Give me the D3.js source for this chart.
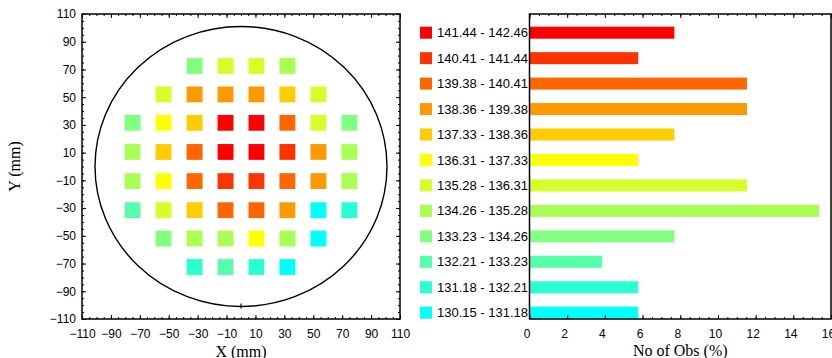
<!DOCTYPE html>
<html>
<head>
<meta charset="utf-8">
<script src="https://cdn.jsdelivr.net/npm/d3@7"></script>
<style>
  body { margin: 0; background: #fff; }
  text { font-family: "Liberation Sans", Arial, sans-serif; fill: #000; }
  .title { font-family: "Liberation Serif", "Times New Roman", serif; font-size: 16px; }
</style>
</head>
<body>
<div id="chart"></div>
<script>
// value classes, lowest first
var bins = ["130.15 - 131.18", "131.18 - 132.21", "132.21 - 133.23", "133.23 - 134.26",
            "134.26 - 135.28", "135.28 - 136.31", "136.31 - 137.33", "137.33 - 138.36",
            "138.36 - 139.38", "139.38 - 140.41", "140.41 - 141.44", "141.44 - 142.46"];
var binColors = ["#00ffff", "#2affd4", "#55ffaa", "#80ff80", "#aaff55", "#d4ff2a",
                 "#ffff00", "#ffcc00", "#ff9900", "#ff6600", "#ff3300", "#ff0000"];
var obsPct = [5.77, 5.77, 3.85, 7.69, 15.38, 11.54, 5.77, 7.69, 11.54, 11.54, 5.77, 7.69];

// measurement sites (mm) and their class index
var siteX = [-32.1, -10.7, 10.7, 32.1,
             -53.6, -32.1, -10.7, 10.7, 32.1, 53.6,
             -75, -53.6, -32.1, -10.7, 10.7, 32.1, 53.6, 75,
             -75, -53.6, -32.1, -10.7, 10.7, 32.1, 53.6, 75,
             -75, -53.6, -32.1, -10.7, 10.7, 32.1, 53.6, 75,
             -75, -53.6, -32.1, -10.7, 10.7, 32.1, 53.6, 75,
             -53.6, -32.1, -10.7, 10.7, 32.1, 53.6,
             -32.1, -10.7, 10.7, 32.1];
var siteY = [72.5, 72.5, 72.5, 72.5,
             52, 52, 52, 52, 52, 52,
             31.5, 31.5, 31.5, 31.5, 31.5, 31.5, 31.5, 31.5,
             10.5, 10.5, 10.5, 10.5, 10.5, 10.5, 10.5, 10.5,
             -10.5, -10.5, -10.5, -10.5, -10.5, -10.5, -10.5, -10.5,
             -31.5, -31.5, -31.5, -31.5, -31.5, -31.5, -31.5, -31.5,
             -52, -52, -52, -52, -52, -52,
             -72.5, -72.5, -72.5, -72.5];
var siteBin = [3, 5, 5, 4,
               5, 8, 8, 8, 7, 5,
               3, 6, 7, 11, 11, 9, 5, 3,
               4, 7, 9, 11, 11, 10, 8, 4,
               4, 6, 9, 10, 10, 9, 8, 4,
               2, 5, 7, 9, 9, 8, 0, 1,
               3, 4, 4, 6, 4, 0,
               1, 2, 1, 0];
var waferRadius = 101;

var mapTicks = [-110, -90, -70, -50, -30, -10, 10, 30, 50, 70, 90, 110];
var pctTicks = [0, 2, 4, 6, 8, 10, 12, 14, 16];

var width = 832, height = 358;
var svg = d3.select("#chart").append("svg")
    .attr("width", width).attr("height", height);

// ---------- wafer map ----------
var m = {left: 82, right: 400, top: 14, bottom: 319};
var x = d3.scaleLinear().domain([-110, 110]).range([m.left, m.right]);
var y = d3.scaleLinear().domain([-110, 110]).range([m.bottom, m.top]);
var mapMinor = d3.range(-110, 111, 5);

function inward(axis, vals, size, fmt) {
  return axis.tickValues(vals).tickSize(size).tickSizeOuter(0).tickFormat(fmt);
}

var gm = svg.append("g");
[[d3.axisBottom(x), "translate(0," + m.bottom + ")"],
 [d3.axisTop(x), "translate(0," + m.top + ")"]].forEach(function(a) {
  gm.append("g").attr("transform", a[1]).call(inward(a[0], mapMinor, -2, ""));
});
[[d3.axisLeft(y), "translate(" + m.left + ",0)"],
 [d3.axisRight(y), "translate(" + m.right + ",0)"]].forEach(function(a) {
  gm.append("g").attr("transform", a[1]).call(inward(a[0], mapMinor, -2, ""));
});
var xAx = gm.append("g").attr("transform", "translate(0," + m.bottom + ")")
    .call(inward(d3.axisBottom(x), mapTicks, -4, d3.format("d")));
gm.append("g").attr("transform", "translate(0," + m.top + ")")
    .call(inward(d3.axisTop(x), mapTicks, -4, ""));
var yAx = gm.append("g").attr("transform", "translate(" + m.left + ",0)")
    .call(inward(d3.axisLeft(y), mapTicks, -4, d3.format("d")));
gm.append("g").attr("transform", "translate(" + m.right + ",0)")
    .call(inward(d3.axisRight(y), mapTicks, -4, ""));

gm.selectAll(".domain").remove();
gm.selectAll(".tick line").attr("stroke", "#000");
xAx.selectAll("text").attr("font-size", 12).attr("y", 10).attr("dy", "0.71em");
yAx.selectAll("text").attr("font-size", 12).attr("x", -6);

gm.selectAll(".site")
    .data(siteBin)
    .enter().append("rect")
    .attr("class", "site")
    .attr("x", function(d, i) { return x(siteX[i] - 5.5); })
    .attr("y", function(d, i) { return y(siteY[i] + 5.7); })
    .attr("width", x(5.5) - x(-5.5))
    .attr("height", y(-5.7) - y(5.7))
    .attr("fill", function(d) { return binColors[d]; });

gm.append("ellipse")
    .attr("cx", x(0)).attr("cy", y(0))
    .attr("rx", x(waferRadius) - x(0)).attr("ry", y(0) - y(waferRadius))
    .attr("fill", "none").attr("stroke", "#000").attr("stroke-width", 1.4);
gm.append("line")
    .attr("x1", x(0)).attr("x2", x(0))
    .attr("y1", y(-waferRadius) - 3).attr("y2", y(-waferRadius) + 2)
    .attr("stroke", "#000").attr("stroke-width", 1.2);

gm.append("rect")
    .attr("x", m.left).attr("y", m.top)
    .attr("width", m.right - m.left).attr("height", m.bottom - m.top)
    .attr("fill", "none").attr("stroke", "#000").attr("stroke-width", 1.5);

gm.append("text").attr("class", "title")
    .attr("x", x(0)).attr("y", 357).attr("text-anchor", "middle").text("X (mm)");
gm.append("text").attr("class", "title")
    .attr("transform", "translate(20," + y(0) + ") rotate(-90)")
    .attr("text-anchor", "middle").text("Y (mm)");

// ---------- histogram ----------
var h = {left: 529.5, right: 831, top: 14, bottom: 319};
var xb = d3.scaleLinear().domain([0, 16]).range([h.left, h.right]);
var yb = d3.scalePoint().domain(bins.slice().reverse()).range([32.7, 312.7]);
var pctMinor = d3.range(0, 16.01, 0.5);
var barH = 12;

var gh = svg.append("g");
gh.append("g").attr("transform", "translate(0," + h.bottom + ")")
    .call(inward(d3.axisBottom(xb), pctMinor, -2, ""));
gh.append("g").attr("transform", "translate(0," + h.top + ")")
    .call(inward(d3.axisTop(xb), pctMinor, -2, ""));
gh.append("g").attr("transform", "translate(0," + h.top + ")")
    .call(inward(d3.axisTop(xb), pctTicks, -4, ""));

gh.selectAll(".bar")
    .data(obsPct)
    .enter().append("rect")
    .attr("class", "bar")
    .attr("x", xb(0))
    .attr("y", function(d, i) { return yb(bins[i]) - barH / 2; })
    .attr("width", function(d) { return xb(d) - xb(0); })
    .attr("height", barH)
    .attr("fill", function(d, i) { return binColors[i]; });

var bAx = gh.append("g").attr("transform", "translate(0," + h.bottom + ")")
    .call(inward(d3.axisBottom(xb), pctTicks, -4, d3.format("d")));
gh.selectAll(".domain").remove();
gh.selectAll(".tick line").attr("stroke", "#000");
bAx.selectAll("text").attr("font-size", 12).attr("y", 10).attr("dy", "0.71em").attr("dx", -3);

gh.append("rect")
    .attr("x", h.left).attr("y", h.top)
    .attr("width", h.right - h.left).attr("height", h.bottom - h.top)
    .attr("fill", "none").attr("stroke", "#000").attr("stroke-width", 1.5);

var leg = gh.selectAll(".leg")
    .data(bins)
    .enter().append("g")
    .attr("class", "leg")
    .attr("transform", function(d) { return "translate(420," + yb(d) + ")"; });
leg.append("rect")
    .attr("x", 0).attr("y", -6).attr("width", 12).attr("height", 12)
    .attr("fill", function(d, i) { return binColors[i]; });
leg.append("text")
    .attr("x", 17).attr("dy", "0.35em").attr("font-size", 13)
    .text(function(d) { return d; });

gh.append("text").attr("class", "title")
    .attr("x", (h.left + h.right) / 2).attr("y", 356).attr("text-anchor", "middle")
    .text("No of Obs (%)");
</script>
</body>
</html>
